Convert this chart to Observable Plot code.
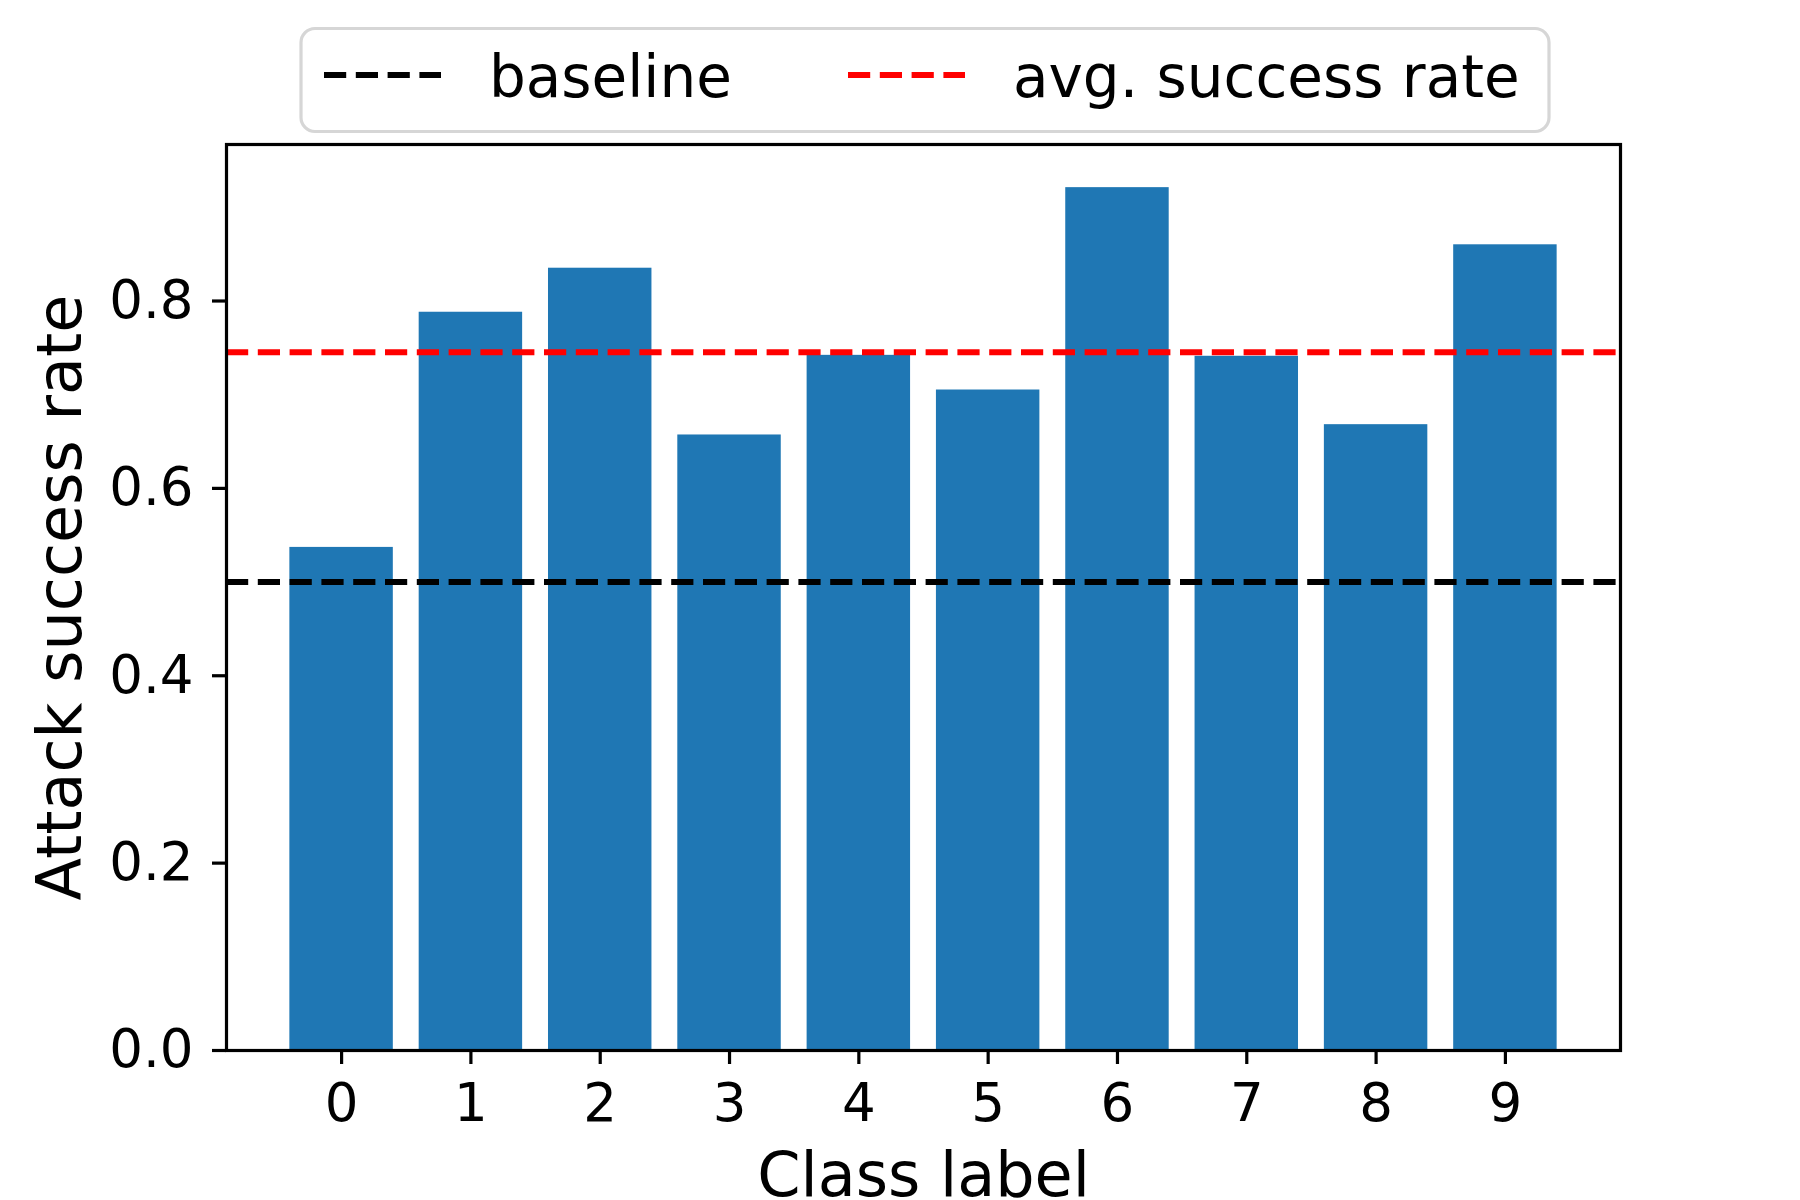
<!DOCTYPE html>
<html>
<head>
<meta charset="utf-8">
<script src="https://cdn.jsdelivr.net/npm/d3@7"></script>
<script src="https://cdn.jsdelivr.net/npm/@observablehq/plot@0.6"></script>
<style>
  html, body { margin: 0; padding: 0; background: #ffffff; overflow: hidden; }
  #wrap { position: relative; width: 1800px; height: 1200px; font-family: "DejaVu Sans", sans-serif; }
  #legend { position: absolute; left: 0; top: 0; }
</style>
</head>
<body>
<div id="wrap"></div>
<script>
// ---- data ----
const classes = ["0", "1", "2", "3", "4", "5", "6", "7", "8", "9"];
const successRates = [0.537, 0.788, 0.835, 0.657, 0.742, 0.705, 0.921, 0.741, 0.668, 0.860];
const baselineValue = 0.5;
const yTicks = [0, 0.2, 0.4, 0.6, 0.8];
const legendLabels = ["baseline", "avg. success rate"];
const legendColors = ["#000000", "#ff0000"];
const xLabel = "Class label";
const yLabel = "Attack success rate";

const avgRate = d3.mean(successRates);
const rows = classes.map((c, i) => ({cls: c, rate: successRates[i]}));
const yMax = d3.max(successRates) * 1.05;

const dash = "22.2,9.6";
const font = "DejaVu Sans";

const chart = Plot.plot({
  width: 1800,
  height: 1200,
  marginLeft: 226,
  marginRight: 180,
  marginTop: 144,
  marginBottom: 150,
  style: {fontFamily: font, background: "#ffffff", color: "#000000"},
  x: {type: "band", domain: classes, paddingInner: 0.2, paddingOuter: 0.49, round: false, axis: null},
  y: {type: "linear", domain: [0, yMax], axis: null},
  marks: [
    Plot.barY(rows, {x: "cls", y: "rate", fill: "#1f77b4"}),
    Plot.ruleY([baselineValue], {stroke: legendColors[0], strokeWidth: 6, strokeDasharray: dash}),
    Plot.ruleY([avgRate], {stroke: legendColors[1], strokeWidth: 6, strokeDasharray: dash}),
    Plot.axisX({tickSize: 14, tickPadding: 18.4, fontSize: 53, strokeWidth: 3.2, label: null, stroke: "#000"}),
    Plot.axisY({ticks: yTicks, tickFormat: d3.format(".1f"), tickSize: 14, tickPadding: 19, fontSize: 53, strokeWidth: 3.2, label: null, stroke: "#000"}),
    Plot.frame({stroke: "#000", strokeWidth: 3.2}),
    Plot.text([xLabel], {frameAnchor: "bottom", dy: 126, fontSize: 62, lineAnchor: "middle", textAnchor: "middle", fill: "#000"}),
    Plot.text([yLabel], {frameAnchor: "left", dx: -165.8, rotate: -90, fontSize: 62, lineAnchor: "middle", textAnchor: "middle", fill: "#000"})
  ]
});

const wrap = document.getElementById("wrap");
wrap.appendChild(chart);

// ---- legend (above the axes, inside the figure) ----
const lg = d3.select(wrap).append("svg")
  .attr("id", "legend")
  .attr("width", 1800).attr("height", 140)
  .style("font-family", font);

lg.append("rect")
  .attr("x", 301).attr("y", 28.5)
  .attr("width", 1248).attr("height", 103)
  .attr("rx", 14).attr("ry", 14)
  .attr("fill", "#ffffff")
  .attr("stroke", "#d6d6d6").attr("stroke-width", 3.2);

const handleX = [324, 848];
const textX = [489, 1013];
legendLabels.forEach((lab, i) => {
  lg.append("line")
    .attr("x1", handleX[i]).attr("x2", handleX[i] + 117)
    .attr("y1", 75).attr("y2", 75)
    .attr("stroke", legendColors[i]).attr("stroke-width", 6)
    .attr("stroke-dasharray", dash);
  lg.append("text")
    .attr("x", textX[i]).attr("y", 97)
    .attr("font-size", 58)
    .attr("fill", "#000")
    .text(lab);
});
</script>
</body>
</html>
